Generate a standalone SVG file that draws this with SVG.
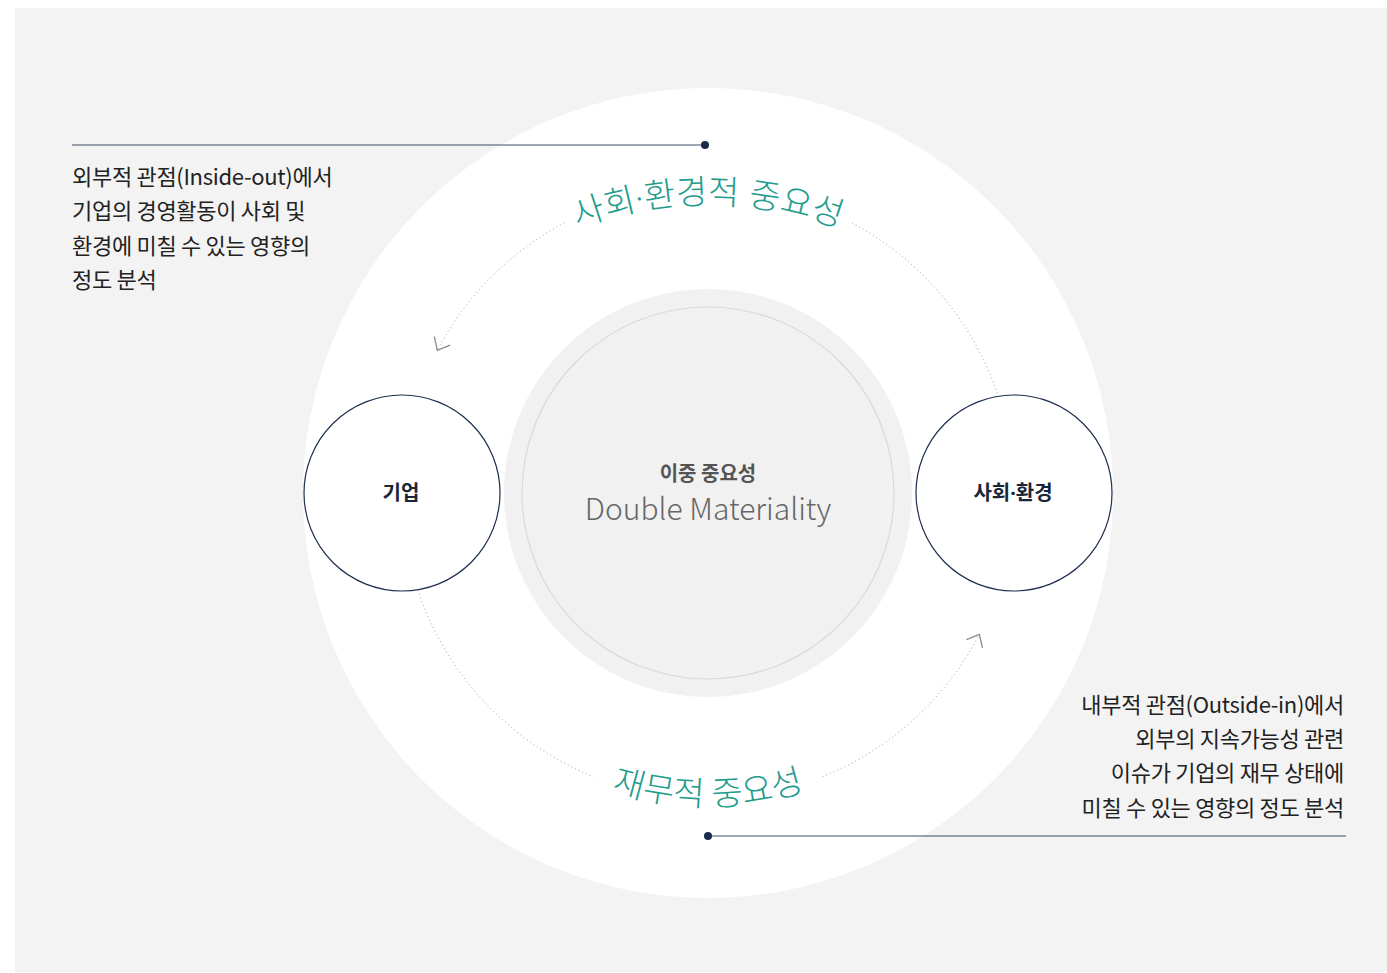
<svg xmlns="http://www.w3.org/2000/svg" xmlns:xlink="http://www.w3.org/1999/xlink" width="1387" height="973" viewBox="0 0 1387 973">
  <style>
    .body { font-family: "Noto Sans CJK KR", "Noto Sans", sans-serif; font-size: 22px; fill: #222222; letter-spacing: -0.3px; }
    .arcText { font-family: "Noto Sans", "Noto Sans CJK KR", sans-serif; font-size: 34px; fill: #1f9c8c; font-weight: 300; }
    .dotted { fill: none; stroke: #9a9a9a; stroke-width: 1; stroke-dasharray: 1 3; }
    .leader { stroke: #3c4c63; stroke-width: 1; }
    .leaderDot { fill: #1a2b4c; }
    .node { fill: #ffffff; stroke: #1e2f4f; stroke-width: 1.2; }
    .nodeLabel { font-family: "Noto Sans", "Noto Sans CJK KR", sans-serif; font-size: 20px; font-weight: 700; fill: #1b2538; text-anchor: middle; }
  </style>
  <defs>
    <marker id="chev" markerUnits="userSpaceOnUse" markerWidth="30" markerHeight="30" refX="15" refY="15" orient="auto" viewBox="0 0 30 30">
      <path d="M4.3 6 L15 15 L4.3 24" fill="none" stroke="#8a8a8a" stroke-width="1.3"/>
    </marker>
    <path id="topTextPath" d="M 338 574 A 370 370 0 0 1 1078 574"/>
    <path id="botTextPath" d="M 395 493 A 313 313 0 0 0 1021 493"/>
  </defs>

  <rect x="15" y="8" width="1372" height="964" fill="#f3f3f3"/>

  <g id="outer-ring">
    <circle cx="708" cy="493" r="405" fill="#ffffff"/>
  </g>

  <g id="center">
    <circle cx="708" cy="493" r="204" fill="#f1f1f1"/>
    <circle cx="708" cy="493" r="186" fill="none" stroke="#d9d9d9" stroke-width="1.2"/>
    <text x="708" y="481" text-anchor="middle" font-family="'Noto Sans CJK KR', 'Noto Sans', sans-serif" font-size="20" font-weight="700" fill="#555555">이중 중요성</text>
    <text x="708" y="520" text-anchor="middle" font-family="'Noto Sans CJK KR', 'Noto Sans', sans-serif" font-size="30" font-weight="300" fill="#666666">Double Materiality</text>
  </g>

  <g id="connectors">
    <path class="dotted" d="M 997.3 393.4 A 306 306 0 0 0 851.7 222.8"/>
    <path class="dotted" d="M 564.3 222.8 A 306 306 0 0 0 437.3 350.3" marker-end="url(#chev)"/>
    <path class="dotted" d="M 417.8 590.1 A 306 306 0 0 0 593.4 776.7"/>
    <path class="dotted" d="M 822.6 776.7 A 306 306 0 0 0 979.4 634.3" marker-end="url(#chev)"/>
    <text class="arcText" font-size="32"><textPath xlink:href="#topTextPath" href="#topTextPath" startOffset="50%" text-anchor="middle">사회·환경적 중요성</textPath></text>
    <text class="arcText"><textPath xlink:href="#botTextPath" href="#botTextPath" startOffset="50%" text-anchor="middle">재무적 중요성</textPath></text>
  </g>

  <g id="node-company">
    <circle class="node" cx="402" cy="493" r="98"/>
    <text class="nodeLabel" x="401" y="500">기업</text>
  </g>

  <g id="node-society">
    <circle class="node" cx="1014" cy="493" r="98"/>
    <text class="nodeLabel" x="1013" y="500">사회·환경</text>
  </g>

  <g id="note-inside-out">
    <line class="leader" x1="72" y1="145" x2="705" y2="145"/>
    <circle class="leaderDot" cx="705" cy="145" r="4"/>
    <text class="body" x="72" y="185">외부적 관점(Inside-out)에서</text>
    <text class="body" x="72" y="219">기업의 경영활동이 사회 및</text>
    <text class="body" x="72" y="254">환경에 미칠 수 있는 영향의</text>
    <text class="body" x="72" y="288">정도 분석</text>
  </g>

  <g id="note-outside-in">
    <line class="leader" x1="708" y1="836" x2="1346" y2="836"/>
    <circle class="leaderDot" cx="708" cy="836" r="4"/>
    <text class="body" x="1344" y="713" text-anchor="end">내부적 관점(Outside-in)에서</text>
    <text class="body" x="1344" y="747" text-anchor="end">외부의 지속가능성 관련</text>
    <text class="body" x="1344" y="781" text-anchor="end">이슈가 기업의 재무 상태에</text>
    <text class="body" x="1344" y="816" text-anchor="end">미칠 수 있는 영향의 정도 분석</text>
  </g>
</svg>
